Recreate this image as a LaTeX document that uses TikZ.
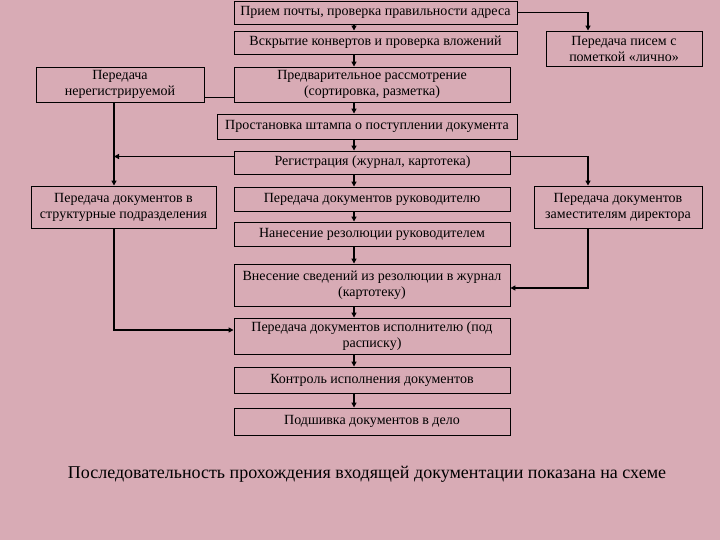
\documentclass[tikz,border=0pt]{standalone}
\usepackage{fontspec}
\setmainfont{Liberation Serif}
\usepackage{xcolor}
\usetikzlibrary{arrows.meta, positioning}
\definecolor{bgpink}{RGB}{216,171,181}

\begin{document}
\begin{tikzpicture}[x=1pt, y=-1pt, font=\fontsize{14}{16}\selectfont, >={Triangle[length=5pt,width=5pt]},
  b/.style={draw, line width=0.9pt, align=center, inner sep=1pt},
  m/.style={b, minimum width=276pt},
  a/.style={->, line width=1.8pt}]
\useasboundingbox[fill=bgpink] (0,0) rectangle (720,540);
% main column
\node[b, minimum width=283pt, minimum height=23pt] (pr) at (375.5,12.5) {Прием почты, проверка правильности адреса};
\node[b, minimum width=283pt, minimum height=23pt] (vs) at (375.5,42.5) {Вскрытие конвертов и проверка вложений};
\node[m, minimum height=35pt] (pred) at (372,84.5) {Предварительное рассмотрение\\(сортировка, разметка)};
\node[b, minimum width=300pt, minimum height=25pt] (post) at (367,126.5) {Простановка штампа о поступлении документа};
\node[m, minimum height=23pt] (reg) at (372.5,162.5) {Регистрация (журнал, картотека)};
\node[m, minimum height=24pt] (ruk) at (372,199) {Передача документов руководителю};
\node[m, minimum height=24pt] (rez) at (372,234) {Нанесение резолюции руководителем};
\node[m, minimum height=42pt] (vnes) at (372,285) {Внесение сведений из резолюции в журнал\\(картотеку)};
\node[m, minimum height=36pt] (isp) at (372,336) {Передача документов исполнителю (под\\расписку)};
\node[m, minimum height=26pt] (kontr) at (372,380) {Контроль исполнения документов};
\node[m, minimum height=27pt] (podsh) at (372,421.5) {Подшивка документов в дело};
% side boxes
\node[b, minimum width=168pt, minimum height=35pt] (nereg) at (120,84.5) {Передача\\нерегистрируемой};
\node[b, minimum width=185pt, minimum height=42pt] (struct) at (123.5,207) {Передача документов в\\структурные подразделения};
\node[b, minimum width=156pt, minimum height=35pt] (lich) at (624,48.5) {Передача писем с\\пометкой «лично»};
\node[b, minimum width=168pt, minimum height=42pt] (zam) at (618,207) {Передача документов\\заместителям директора};
\node[font=\fontsize{18}{20}\selectfont] (cap) at (367,474) {Последовательность прохождения входящей документации показана на схеме};
\coordinate (sp) at (354,0);
\coordinate (lx) at (114,0);
\coordinate (rx) at (588,0);
% connectors
\foreach \u/\v in {pr/vs, vs/pred, pred/post, post/reg, reg/ruk, ruk/rez, rez/vnes, vnes/isp, isp/kontr, kontr/podsh}
  \draw[a] (\u.south -| sp) -- (\v.north -| sp);
\draw[->, line width=1.3pt] (pr.east) -| (lich.north -| rx);
\draw[line width=1pt] ([yshift=5pt]pred.south west) -- ([yshift=5pt]nereg.south east);
\draw[a] (nereg.south -| lx) -- (struct.north -| lx);
\draw[a] ([yshift=6pt]reg.west) -- ([yshift=6pt]reg.west -| lx);
\draw[a] ([yshift=6pt]reg.east) -| (zam.north -| rx);
\draw[a] (zam.south -| rx) |- ([yshift=-3pt]vnes.east);
\draw[a] (struct.south -| lx) |- ([yshift=6pt]isp.west);
\end{tikzpicture}
\end{document}
